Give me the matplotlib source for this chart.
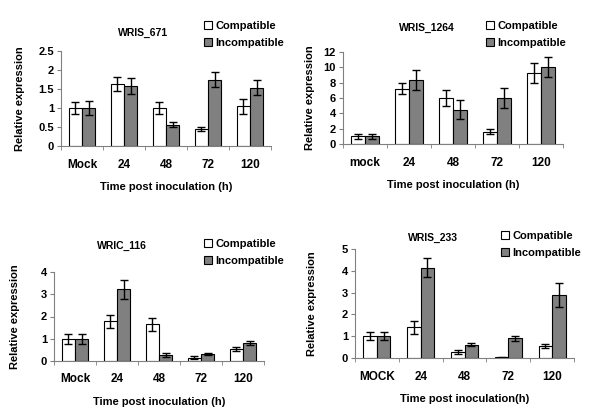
import matplotlib
matplotlib.use("Agg")
from matplotlib import pyplot as plt
import numpy as np

plt.rcParams['font.family'] = ['Liberation Sans', 'DejaVu Sans']
plt.rcParams['font.weight'] = 'bold'

# values
titles = ['WRIS_671', 'WRIS_1264', 'WRIC_116', 'WRIS_233']
tick_labels = [['Mock', '24', '48', '72', '120'],
               ['mock', '24', '48', '72', '120'],
               ['Mock', '24', '48', '72', '120'],
               ['MOCK', '24', '48', '72', '120']]
xlabels = ['Time post inoculation (h)', 'Time post inoculation (h)',
           'Time post inoculation (h)', 'Time post inoculation(h)']

compatible = [[1.0, 1.63, 1.0, 0.44, 1.05],
              [1.0, 7.2, 6.0, 1.6, 9.3],
              [1.0, 1.78, 1.65, 0.15, 0.55],
              [1.0, 1.4, 0.27, 0.04, 0.55]]
compatible_err = [[0.15, 0.18, 0.17, 0.05, 0.2],
                  [0.3, 0.7, 1.0, 0.3, 1.3],
                  [0.22, 0.3, 0.3, 0.07, 0.1],
                  [0.17, 0.28, 0.08, 0.02, 0.08]]
incompatible = [[1.0, 1.58, 0.56, 1.74, 1.53],
                [1.0, 8.3, 4.5, 6.0, 10.0],
                [1.0, 3.22, 0.28, 0.32, 0.8],
                [1.0, 4.15, 0.6, 0.9, 2.9]]
incompatible_err = [[0.18, 0.2, 0.06, 0.2, 0.2],
                    [0.3, 1.3, 1.2, 1.3, 1.3],
                    [0.22, 0.42, 0.08, 0.04, 0.1],
                    [0.17, 0.45, 0.07, 0.1, 0.55]]
y_max = [2.5, 12, 4, 5]
y_step = [0.5, 2, 1, 1]

W, H = 600, 420
# panel layout in pixels: left, right, bottom, top
boxes = [(61, 271, 146, 51), (343, 563, 144, 52), (54, 264, 361, 272), (355, 574, 358, 249)]
title_pos = [(143, 33), (427, 28), (122, 246), (433, 238)]
legend_pos = [(204, 21), (486, 21), (204, 239), (501, 231)]
ylabel_x = [25, 315, 20, 317]

fig = plt.figure(figsize=(6, 4.2), dpi=100)

for i in range(4):
    l, r, b, t = boxes[i]
    ax = fig.add_axes([l / W, 1 - b / H, (r - l) / W, (b - t) / H])
    x = np.arange(5)
    w = 0.31
    err_kw = dict(ecolor='black', elinewidth=1, capsize=2.8, capthick=1)
    ax.bar(x - w / 2, compatible[i], w, yerr=compatible_err[i], color='white',
           edgecolor='black', linewidth=0.8, error_kw=err_kw, label='Compatible')
    ax.bar(x + w / 2, incompatible[i], w, yerr=incompatible_err[i], color='#808080',
           edgecolor='black', linewidth=0.8, error_kw=err_kw, label='Incompatible')

    ax.set_xlim(-0.5, 4.5)
    ax.set_ylim(0, y_max[i])
    ticks = np.arange(0, y_max[i] + y_step[i] / 2, y_step[i])
    ax.set_yticks(ticks)
    ax.set_yticklabels(['%g' % v for v in ticks], fontsize=8, fontweight='bold')
    ax.set_xticks(x)
    ax.set_xticklabels(tick_labels[i], fontsize=8.5, fontweight='bold')
    ax.set_xticks(np.arange(-0.5, 5, 1), minor=True)
    ax.tick_params(axis='x', which='major', length=0, pad=9)
    ax.tick_params(axis='x', which='minor', length=3, color='#808080')
    ax.tick_params(axis='y', length=3, color='#808080', pad=2)
    for s in ['top', 'right']:
        ax.spines[s].set_visible(False)
    for s in ['left', 'bottom']:
        ax.spines[s].set_color('#808080')
        ax.spines[s].set_linewidth(0.8)

    ax.set_xlabel(xlabels[i], fontsize=8, fontweight='bold', labelpad=8)
    ax.set_ylabel('Relative expression', fontsize=8, fontweight='bold')
    ax.yaxis.set_label_coords((ylabel_x[i] - l) / (r - l), 0.5)

    tx, ty = title_pos[i]
    fig.text(tx / W, 1 - ty / H, titles[i], fontsize=7.5, fontweight='bold',
             ha='center', va='center')

    lx, ly = legend_pos[i]
    ax.legend(loc='upper left', bbox_to_anchor=(lx / W, 1 - ly / H),
              bbox_transform=fig.transFigure, frameon=False, fontsize=8,
              handlelength=0.7, handleheight=0.7, handletextpad=0.3,
              labelspacing=0.6, borderpad=0, borderaxespad=0)

fig.savefig('out.png', dpi=100)
